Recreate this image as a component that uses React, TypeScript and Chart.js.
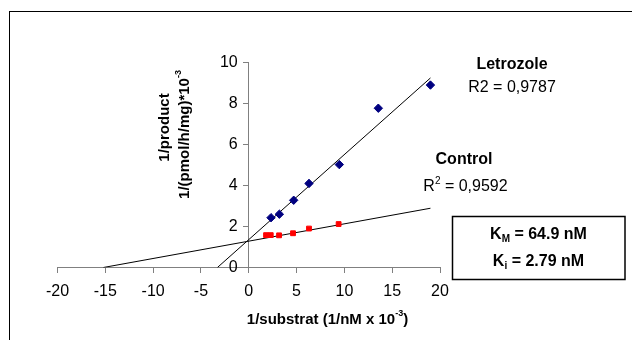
import React, { useEffect, useRef } from "react";
import { Chart, registerables } from "chart.js";

Chart.register(...registerables);

// ---- data ----
const letrozoleX = [2.33, 3.2, 4.7, 6.3, 9.47, 13.55, 19.0];
const letrozoleY = [2.43, 2.6, 3.28, 4.1, 5.02, 7.77, 8.9];
const controlX = [1.81, 2.3, 3.17, 4.63, 6.3, 9.4];
const controlY = [1.58, 1.58, 1.57, 1.67, 1.9, 2.12];

// linear trendlines: [slope, intercept], drawn from y = 0 up to x = trendEndX
const letrozoleTrend = [0.415, 1.36];
const controlTrend = [0.0845, 1.285];
const trendEndX = 19.0;

const xTicksRange = [-20, 20, 5];
const yTicksRange = [0, 10, 2];

const seriesNames = ["Letrozole", "Control"];
const r2Letrozole = "R2 = 0,9787";
const r2Control = "0,9592";
const kmValue = "64.9 nM";
const kiValue = "2.79 nM";
const xTitle = "1/substrat (1/nM x 10";
const yTitle1 = "1/product";
const yTitle2 = "1/(pmol/h/mg)*10";
const exponent = "-3";

const FONT = "'Liberation Sans', Arial, sans-serif";

function trendPoints(t: number[]) {
  const [m, b] = t;
  const x0 = -b / m;
  return [
    { x: x0, y: 0 },
    { x: trendEndX, y: m * trendEndX + b },
  ];
}

type Part = { text: string; size: number; bold: boolean; dy: number };

function drawRich(ctx: CanvasRenderingContext2D, parts: Part[], cx: number, cy: number) {
  let total = 0;
  const widths = parts.map((p) => {
    ctx.font = `${p.bold ? "bold " : ""}${p.size}px ${FONT}`;
    const w = ctx.measureText(p.text).width;
    total += w;
    return w;
  });
  let x = cx - total / 2;
  ctx.textAlign = "left";
  ctx.textBaseline = "middle";
  parts.forEach((p, i) => {
    ctx.font = `${p.bold ? "bold " : ""}${p.size}px ${FONT}`;
    ctx.fillText(p.text, x, cy + p.dy);
    x += widths[i];
  });
}

const annotationPlugin = {
  id: "annotations",
  beforeDraw(chart: any) {
    const ctx = chart.ctx as CanvasRenderingContext2D;
    ctx.save();
    ctx.fillStyle = "#ffffff";
    ctx.fillRect(0, 0, chart.width, chart.height);
    ctx.strokeStyle = "#000000";
    ctx.lineWidth = 1;
    ctx.strokeRect(9.5, 11.5, 1000, 1000);
    ctx.restore();
  },
  afterDraw(chart: any) {
    const ctx = chart.ctx as CanvasRenderingContext2D;
    ctx.save();
    ctx.fillStyle = "#000000";
    // y tick labels (axis crosses at x = 0)
    const ys = chart.scales.y;
    const axisX = chart.scales.x.getPixelForValue(0);
    ctx.font = `16px ${FONT}`;
    ctx.textAlign = "right";
    ctx.textBaseline = "middle";
    ys.ticks.forEach((t: any) => {
      ctx.fillText(String(t.label ?? t.value), axisX - 11, ys.getPixelForValue(t.value));
    });
    // series labels
    drawRich(ctx, [{ text: seriesNames[0], size: 16, bold: true, dy: 0 }], 512, 65);
    drawRich(ctx, [{ text: r2Letrozole, size: 16, bold: false, dy: 0 }], 512, 88);
    drawRich(ctx, [{ text: seriesNames[1], size: 16, bold: true, dy: 0 }], 464, 160);
    drawRich(
      ctx,
      [
        { text: "R", size: 16, bold: false, dy: 0 },
        { text: "2", size: 10, bold: false, dy: -6 },
        { text: " = " + r2Control, size: 16, bold: false, dy: 0 },
      ],
      465.5,
      187
    );
    // K box
    ctx.strokeStyle = "#000000";
    ctx.lineWidth = 1.5;
    ctx.strokeRect(452.5, 216.5, 172.5, 63);
    drawRich(
      ctx,
      [
        { text: "K", size: 16, bold: true, dy: 0 },
        { text: "M", size: 10, bold: true, dy: 4 },
        { text: " = " + kmValue, size: 16, bold: true, dy: 0 },
      ],
      538.5,
      235
    );
    drawRich(
      ctx,
      [
        { text: "K", size: 16, bold: true, dy: 0 },
        { text: "i", size: 10, bold: true, dy: 4 },
        { text: " = " + kiValue, size: 16, bold: true, dy: 0 },
      ],
      538.5,
      262
    );
    // x title
    drawRich(
      ctx,
      [
        { text: xTitle, size: 15, bold: true, dy: 0 },
        { text: exponent, size: 9, bold: true, dy: -6 },
        { text: ")", size: 15, bold: true, dy: 0 },
      ],
      327.5,
      320
    );
    // y title (rotated)
    ctx.save();
    ctx.translate(165, 127.5);
    ctx.rotate(-Math.PI / 2);
    drawRich(ctx, [{ text: yTitle1, size: 15, bold: true, dy: 0 }], 0, 0);
    ctx.restore();
    ctx.save();
    ctx.translate(185, 134.5);
    ctx.rotate(-Math.PI / 2);
    drawRich(
      ctx,
      [
        { text: yTitle2, size: 15, bold: true, dy: 0 },
        { text: exponent, size: 9, bold: true, dy: -6 },
      ],
      0,
      0
    );
    ctx.restore();
    ctx.restore();
  },
};

export default function App() {
  const ref = useRef<HTMLCanvasElement | null>(null);
  useEffect(() => {
    document.body.style.margin = "0";
    const canvas = ref.current;
    if (!canvas) return;
    const chart = new Chart(canvas, {
      type: "scatter",
      data: {
        datasets: [
          {
            label: seriesNames[0],
            data: letrozoleX.map((x, i) => ({ x, y: letrozoleY[i] })),
            pointStyle: "rectRot",
            pointRadius: 4.2,
            backgroundColor: "#000080",
            borderColor: "#000080",
            borderWidth: 1,
          },
          {
            label: seriesNames[1],
            data: controlX.map((x, i) => ({ x, y: controlY[i] })),
            pointStyle: "rect",
            pointRadius: 3.4,
            backgroundColor: "#ff0000",
            borderColor: "#ff0000",
            borderWidth: 1,
          },
          {
            label: "trend1",
            data: trendPoints(letrozoleTrend),
            showLine: true,
            pointRadius: 0,
            borderColor: "#000000",
            borderWidth: 1,
          },
          {
            label: "trend2",
            data: trendPoints(controlTrend),
            showLine: true,
            pointRadius: 0,
            borderColor: "#000000",
            borderWidth: 1,
          },
        ],
      },
      options: {
        responsive: false,
        animation: false,
        layout: { padding: { left: 57.5, right: 192, top: 62.5, bottom: 72.5 } },
        plugins: { legend: { display: false }, tooltip: { enabled: false } },
        scales: {
          x: {
            type: "linear",
            position: { y: 0 } as any,
            min: xTicksRange[0],
            max: xTicksRange[1],
            ticks: {
              stepSize: xTicksRange[2],
              color: "#000000",
              font: { family: FONT, size: 16 },
              padding: 9,
              maxRotation: 0,
            },
            grid: { display: true, drawOnChartArea: false, drawTicks: true, tickLength: 5, color: "#808080" },
            border: { display: true, color: "#808080" },
          },
          y: {
            type: "linear",
            position: { x: 0 } as any,
            min: yTicksRange[0],
            max: yTicksRange[1],
            ticks: {
              stepSize: yTicksRange[2],
              display: false,
            },
            grid: { display: true, drawOnChartArea: false, drawTicks: true, tickLength: 5, color: "#808080" },
            border: { display: true, color: "#808080" },
          },
        },
      },
      plugins: [annotationPlugin],
    });
    return () => chart.destroy();
  }, []);
  return (
    <div style={{ width: 632, height: 340 }}>
      <canvas ref={ref} width={632} height={340} style={{ display: "block", width: 632, height: 340 }} />
    </div>
  );
}
